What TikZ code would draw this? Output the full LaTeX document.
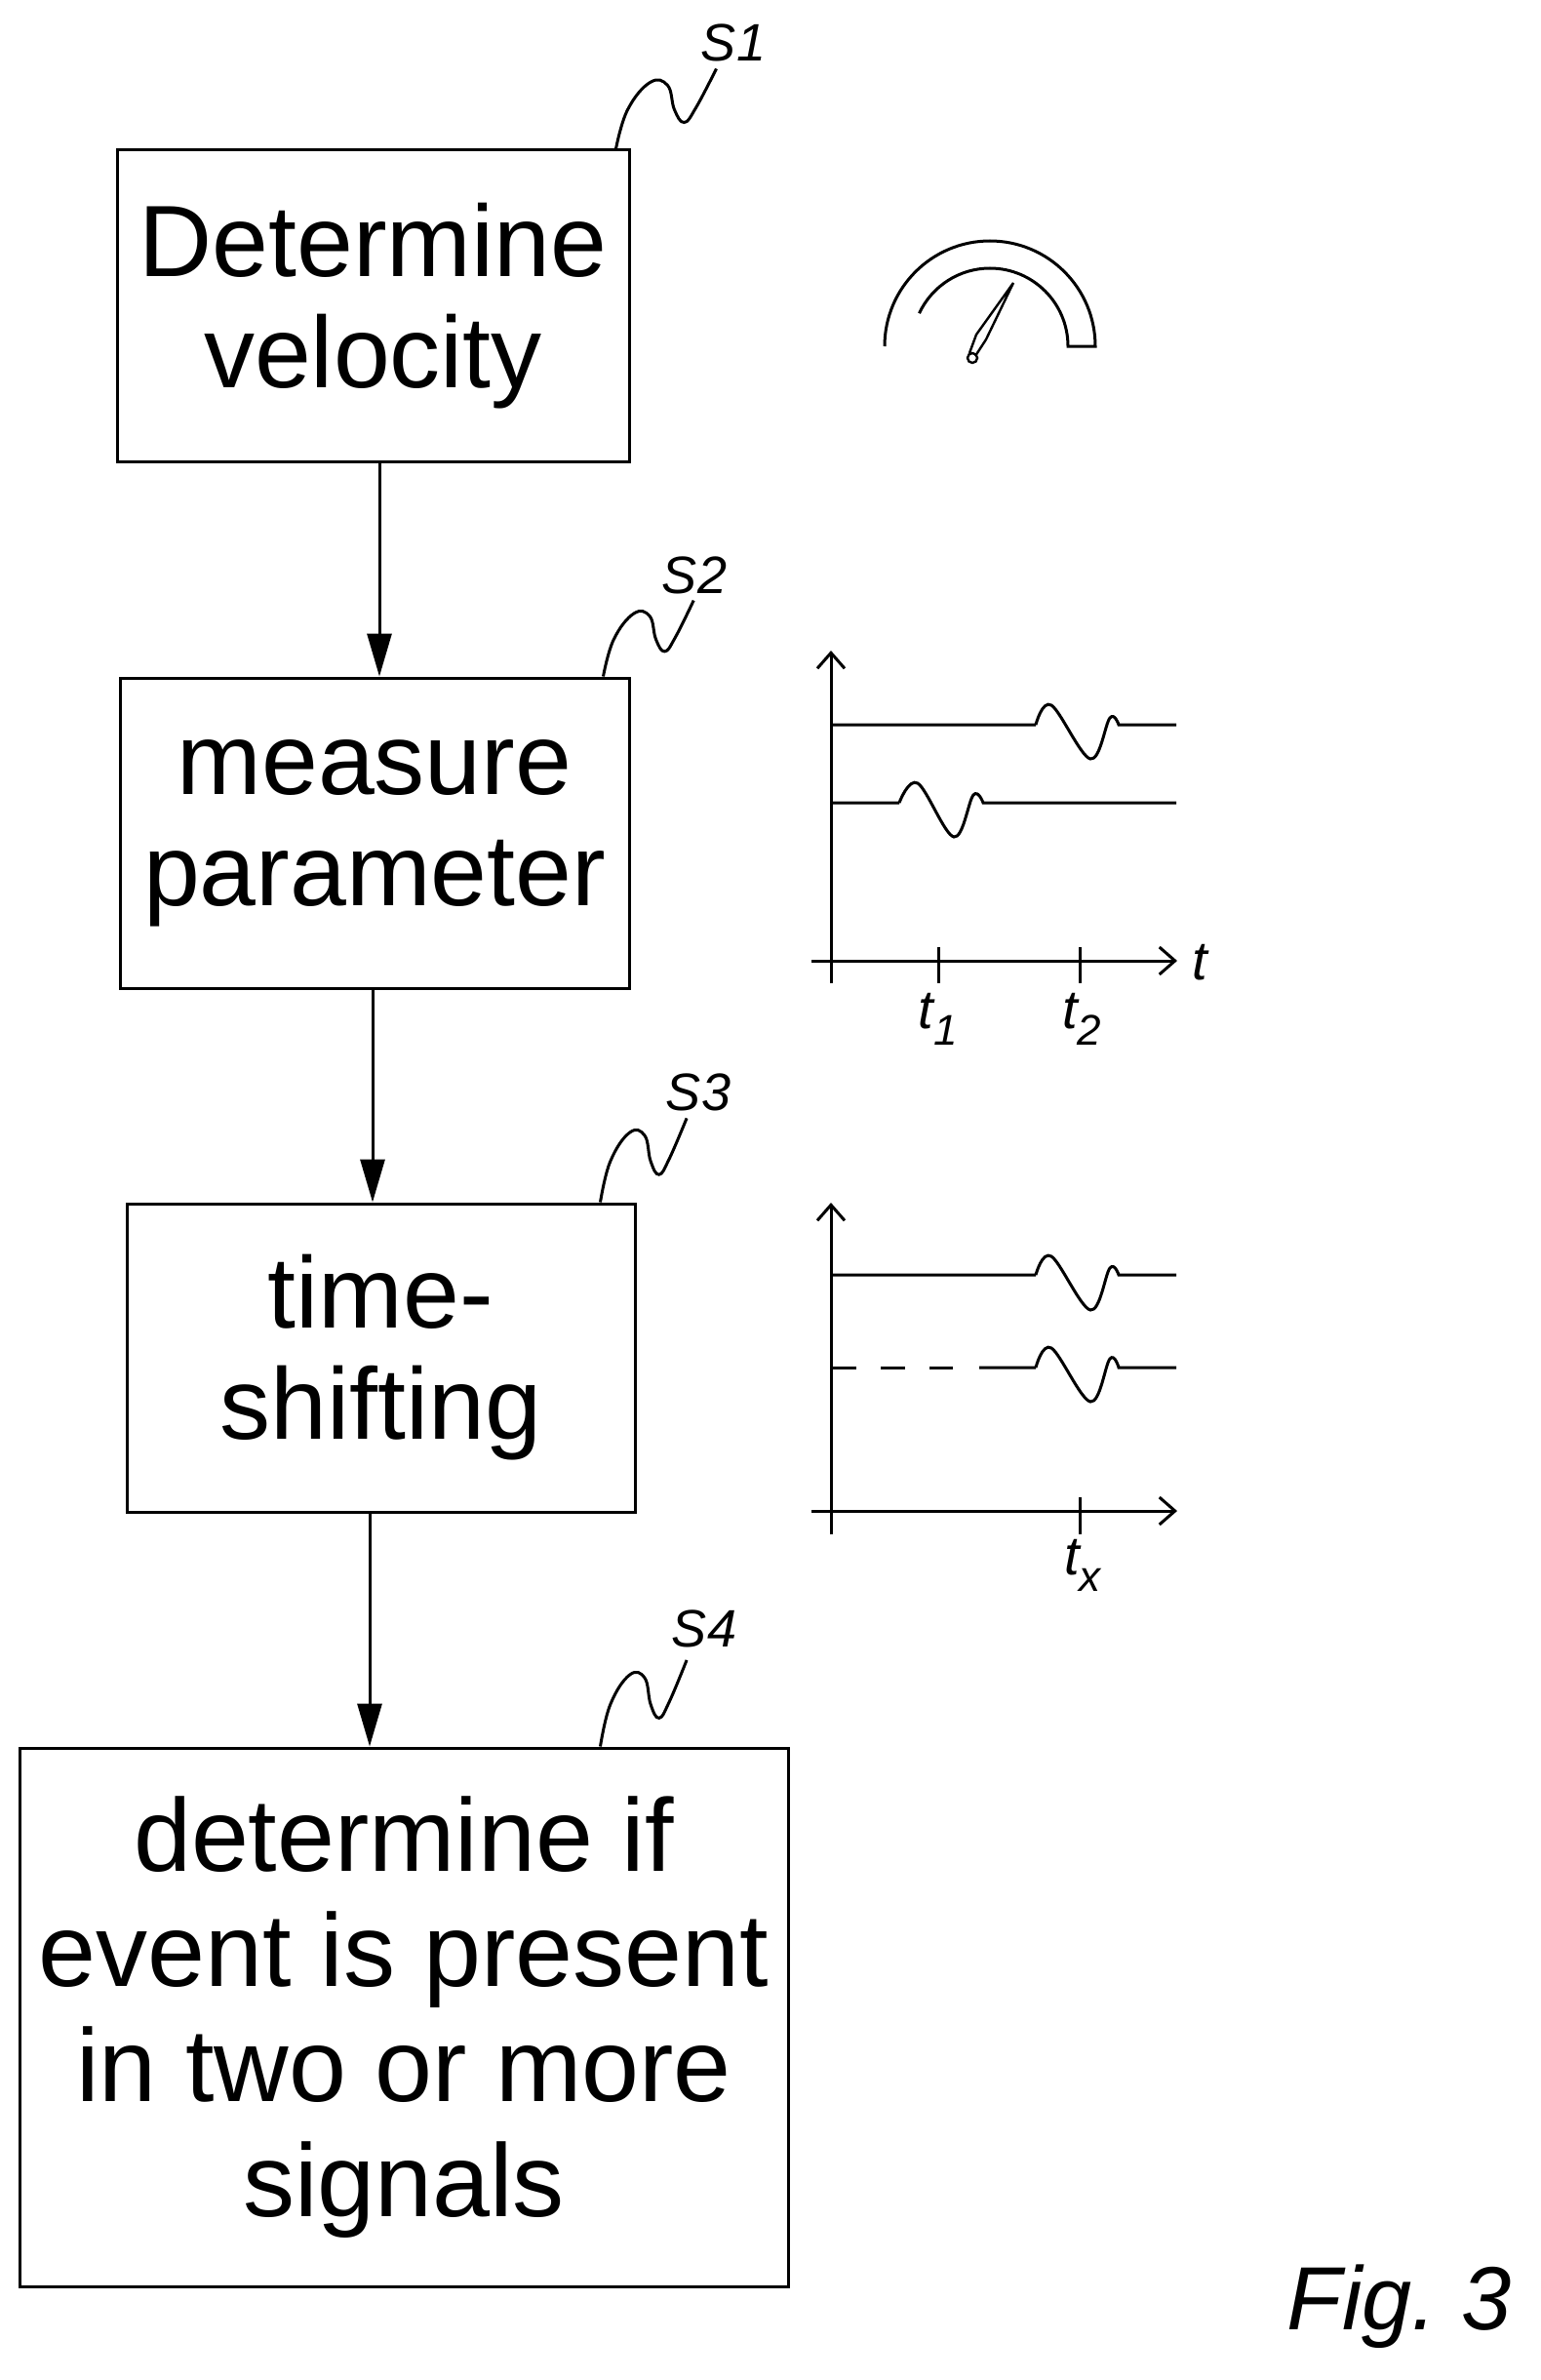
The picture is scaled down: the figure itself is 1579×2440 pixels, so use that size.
\documentclass[tikz,border=0pt]{standalone}
\usepackage{fontspec}
\setmainfont{Liberation Sans}
\usetikzlibrary{arrows.meta,calc}
\begin{document}
\begin{tikzpicture}[x=0.5pt,y=-0.5pt,line width=1.5pt,
  box/.style={draw,rectangle,align=center,inner sep=0pt,font=\fontsize{52}{57}\selectfont},
  arr/.style={-{Triangle[width=12.5pt,length=22pt]}},
  lab/.style={font=\fontsize{27}{30}\selectfont\itshape},
  tl/.style={font=\fontsize{28}{32}\selectfont\itshape},
  ax/.style={-{Straight Barb[length=8pt,width=14pt]}},
  squig/.pic={\draw[line width=1.5pt] plot[smooth,tension=0.7] coordinates{(0,0)(12,-40)(35,-68)(53,-65)(60,-40)(70,-27)(82,-42)(103,-82)};}]
\useasboundingbox (0,0) rectangle (1579,2440);
\node[box,minimum width=262.5pt,minimum height=159.5pt] (S1) at (382.5,313.5) {Determine\\velocity};
\node[box,minimum width=261pt,minimum height=159pt] (S2) at (384,854) {measure\\parameter};
\node[box,minimum width=260.5pt,minimum height=158pt] (S3) at (390.5,1392) {time-\\shifting};
\node[box,minimum width=394pt,minimum height=276pt,font=\fontsize{53}{59}\selectfont] (S4) at (414,2068) {determine if\\event is present\\in two or more\\signals};
\draw[arr] ([xshift=3.25pt]S1.south) -- ([xshift=3.25pt]S1.south |- S2.north);
\draw[arr] ([xshift=-1pt]S2.south) -- ([xshift=-1pt]S2.south |- S3.north);
\draw[arr] ([xshift=-5.75pt]S3.south) -- ([xshift=-5.75pt]S3.south |- S4.north);
% step labels
\pic[xscale=1,yscale=1] at ([xshift=-7.5pt]S1.north east) {squig};
\pic[xscale=0.9,yscale=0.95] at ([xshift=-14pt]S2.north east) {squig};
\pic[xscale=0.86,yscale=1.05] at ([xshift=-18.5pt]S3.north east) {squig};
\pic[xscale=0.86,yscale=1.08] at ([xshift=-97pt]S4.north east) {squig};
\node[lab] (L1) at (752,44) {S1};
\node[lab] (L2) at (712,590) {S2};
\node[lab] (L3) at (716,1120) {S3};
\node[lab] (L4) at (722,1670) {S4};
% gauge
\draw (907,355) arc[start angle=180,end angle=360,radius=108] -- (1095,355) arc[start angle=360,end angle=205,radius=80];
\draw[line width=1.2pt] (994,362) -- (1001,343) -- (1039,290) -- (1011,348) -- (1000,365);
\draw[line width=1.2pt] (997,367) circle[radius=5];
% chart 1
\draw[ax] (852,1008) -- (852,667);
\draw[ax] (832,985) -- (1207,985);
\draw (962,971) -- (962,1008);
\draw (1107,971) -- (1107,1008);
\draw (852,743) -- (1062,743) plot[smooth,tension=0.6] coordinates{(1062,743)(1078,723)(1118,778)(1138,736)(1147,743)} -- (1206,743);
\draw (852,823) -- (922,823) plot[smooth,tension=0.6] coordinates{(922,823)(941,803)(978,858)(998,815)(1008,823)} -- (1206,823);
\node[tl] (ta) at (1230,987) {t};
\node[tl] (t1) at (962,1045) {t\raisebox{-0.3em}{\fontsize{22}{24}\selectfont 1}};
\node[tl] (t2) at (1109,1045) {t\raisebox{-0.3em}{\fontsize{22}{24}\selectfont 2}};
% chart 2
\draw[ax] (852,1573) -- (852,1233);
\draw[ax] (832,1549) -- (1207,1549);
\draw (1107,1535) -- (1107,1573);
\draw (852,1307) -- (1062,1307) plot[smooth,tension=0.6] coordinates{(1062,1307)(1078,1288)(1118,1343)(1138,1300)(1147,1307)} -- (1206,1307);
\draw (852,1402) -- (878,1402);
\draw (903,1402) -- (928,1402);
\draw (953,1402) -- (977,1402);
\draw (1004,1402) -- (1062,1402) plot[smooth,tension=0.6] coordinates{(1062,1402)(1078,1382)(1118,1437)(1138,1393)(1147,1402)} -- (1206,1402);
\node[tl] (tx) at (1110,1605) {t\raisebox{-0.3em}{\fontsize{22}{24}\selectfont x}};
\node[font=\fontsize{46}{50}\selectfont\itshape] (fig) at (1435,2365) {Fig.\ 3};
\end{tikzpicture}
\end{document}
